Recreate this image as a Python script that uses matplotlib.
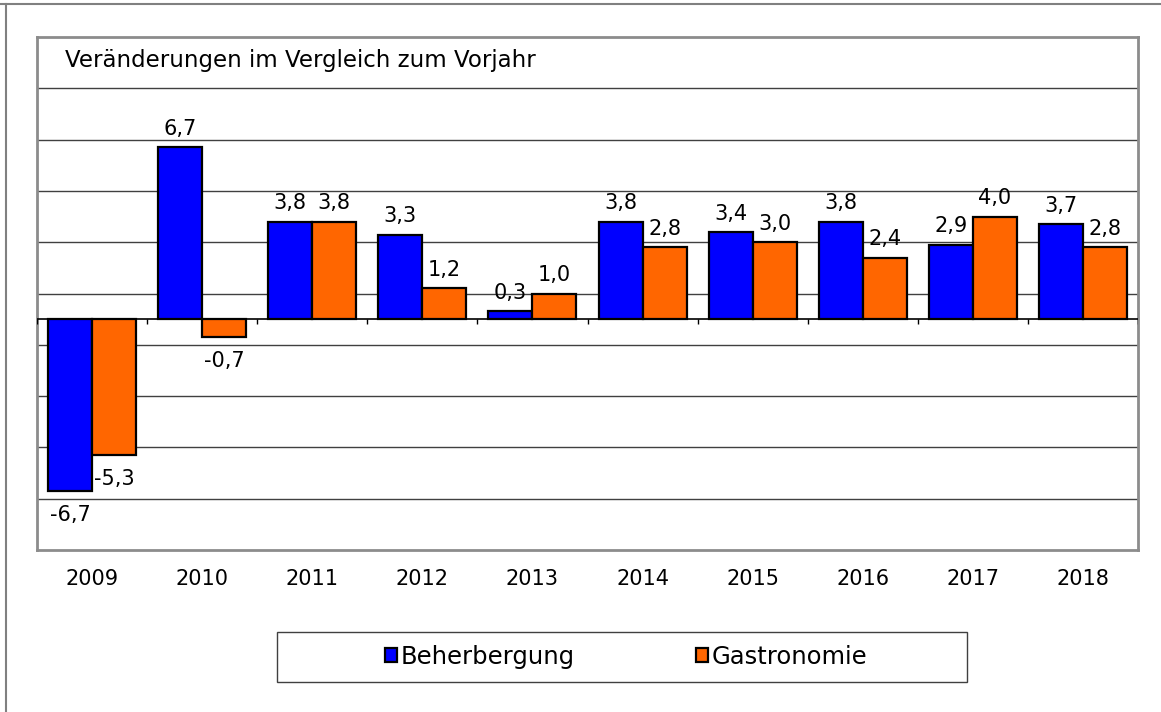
import numpy as np
import matplotlib.pyplot as plt
from matplotlib.lines import Line2D
from matplotlib.patches import Rectangle

# Data
years = ['2009', '2010', '2011', '2012', '2013', '2014', '2015', '2016', '2017', '2018']
beherbergung = [-6.7, 6.7, 3.8, 3.3, 0.3, 3.8, 3.4, 3.8, 2.9, 3.7]
gastronomie = [-5.3, -0.7, 3.8, 1.2, 1.0, 2.8, 3.0, 2.4, 4.0, 2.8]

plt.rcParams['font.family'] = ['DejaVu Sans']

W, H = 1161, 712
fig = plt.figure(figsize=(W / 100, H / 100), dpi=100)

# outer frame (top and left lines)
fig.add_artist(Line2D([0, 1], [1 - 4 / H, 1 - 4 / H], transform=fig.transFigure, color='#808080', lw=1.5))
fig.add_artist(Line2D([6 / W, 6 / W], [0, 1 - 4 / H], transform=fig.transFigure, color='#808080', lw=1.5))

ax = fig.add_axes([37 / W, 1 - 550 / H, (1138 - 37) / W, (550 - 37) / H])

x = np.arange(len(years))
w = 0.4
blue = '#0000FF'
orange = '#FF6600'

ax.bar(x - w / 2, beherbergung, w, color=blue, edgecolor='black', linewidth=1.6, zorder=3, label='Beherbergung')
ax.bar(x + w / 2, gastronomie, w, color=orange, edgecolor='black', linewidth=1.6, zorder=3, label='Gastronomie')

ax.set_xlim(-0.5, len(years) - 0.5)
ax.set_ylim(-9, 11)

# gridlines
for g in range(-7, 11, 2):
    ax.axhline(g, color='#404040', lw=1, zorder=1)
ax.axhline(0, color='black', lw=1.2, zorder=4)
# small ticks at category boundaries below the zero line
ax.vlines(np.arange(-0.5, len(years)), -0.17, 0, color='black', lw=1, zorder=4)

for s in ax.spines.values():
    s.set_color('#8c8c8c')
    s.set_linewidth(2)
ax.set_yticks([])
ax.set_xticks(x)
ax.set_xticklabels(years, fontsize=15)
ax.tick_params(axis='x', length=0, pad=14)


def fmt(v):
    return ('%.1f' % v).replace('.', ',')


for xs, vals in ((x - w / 2, beherbergung), (x + w / 2, gastronomie)):
    for xi, v in zip(xs, vals):
        if v >= 0:
            ax.annotate(fmt(v), (xi, v), xytext=(0, 6), textcoords='offset points',
                        ha='center', va='bottom', fontsize=15, zorder=5)
        else:
            ax.annotate(fmt(v), (xi, v), xytext=(0, -10), textcoords='offset points',
                        ha='center', va='top', fontsize=15, zorder=5)

ax.text(28 / (1138 - 37), 1 - 23 / (550 - 37), 'Veränderungen im Vergleich zum Vorjahr',
        transform=ax.transAxes, ha='left', va='center', fontsize=16.5)

# legend box
fig.add_artist(Rectangle((277 / W, 1 - 682 / H), (967 - 277) / W, 50 / H,
                         transform=fig.transFigure, fill=False, edgecolor='#404040', lw=1))
leg = fig.legend(loc='center', bbox_to_anchor=(626 / W, 1 - 657 / H), ncol=2, fontsize=17.5,
                 frameon=False, handlelength=0.5, handleheight=0.5, handletextpad=0.15,
                 columnspacing=5.0, borderpad=0.3)

fig.savefig('out.png', dpi=100)
